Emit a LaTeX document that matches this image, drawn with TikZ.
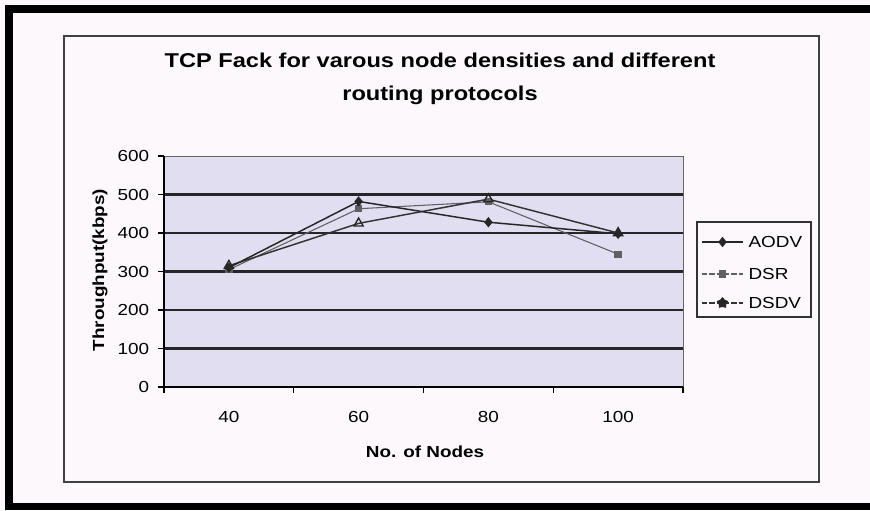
\documentclass[tikz,border=0pt]{standalone}
\usepackage{fontspec}
\setmainfont{Liberation Sans}[FakeStretch=1.18]
\usetikzlibrary{shapes.geometric,calc}

\definecolor{paper}{RGB}{252,248,251}
\definecolor{plotbg}{RGB}{224,222,240}
\definecolor{dsrgrey}{RGB}{95,95,100}

\tikzset{
  tick label/.style={font=\fontsize{12}{14}\selectfont, inner sep=1pt},
  axis title/.style={font=\bfseries\fontsize{12}{14}\selectfont, inner sep=1pt},
  grid line/.style={line width=1.8pt, black!85},
  aodv/.style={line width=1.1pt, black!85},
  dsr/.style={line width=0.8pt, dsrgrey},
  dsdv/.style={line width=1.1pt, black!80},
  aodv dot/.style={diamond, fill=black!85, inner sep=0pt, minimum width=6.5pt, minimum height=8pt},
  dsr dot/.style={rectangle, fill=dsrgrey, inner sep=0pt, minimum size=5.5pt},
  dsdv dot/.style={regular polygon, regular polygon sides=3, draw=black!85, line width=1pt, inner sep=0pt, minimum size=8pt},
  dsdv star/.style={star, star points=5, fill=black!85, inner sep=0pt, minimum size=9pt},
}

\begin{document}
\begin{tikzpicture}[x=0.75pt, y=-0.75pt]
    % --- ФОН И РАМКА ---
    \useasboundingbox (0,0) rectangle (870,510);
    \fill[paper] (0,0) rectangle (870,510);
    \fill[black] (5,5) rectangle (870,13);
    \fill[black] (5,5) rectangle (13,510);
    \fill[black] (5,503) rectangle (870,510);
    \draw[line width=1pt, black!75] (64,36) rectangle (819,482);

    % --- ЗАГОЛОВОК ---
    \node[font=\bfseries\fontsize{15}{24.75}\selectfont, align=center] (title) at (440,79)
        {TCP Fack for varous node densities and different\\routing protocols};

    % --- ОБЛАСТЬ ГРАФИКА ---
    % одна единица x = одна категория, одна единица y = 1 kbps
    \begin{scope}[shift={(164,387)}, x=97.3125pt, y=0.28875pt]
        \fill[plotbg] (0,0) rectangle (4,600);
        \foreach \v in {100,200,...,500}
            \draw[grid line] (0,\v) -- (4,\v);
        \draw[line width=0.6pt, black!60] (0,600) -- (4,600) -- (4,0);
        \draw[line width=1pt] (0,600) -- (0,0) -- (4,0);

        % Деления и подписи осей
        \foreach \v in {0,100,...,600} {
            \draw[line width=0.9pt] (0,\v) -- ++(-4.5pt,0);
            \node[tick label, anchor=east] (ylab\v) at ([xshift=-10pt]0,\v) {\v};
        }
        \foreach \i in {0,...,4}
            \draw[line width=0.9pt] (\i,0) -- ++(0,-4.5pt);
        \foreach \n [count=\i] in {40,60,80,100}
            \node[tick label] (xlab\n) at ([yshift=-22.5pt]\i-0.5,0) {\n};

        % Данные
        \foreach \a [count=\i] in {310,482,428,398}
            \coordinate (aodv\i) at (\i-0.5,\a);
        \foreach \d [count=\i] in {305,463,481,345}
            \coordinate (dsr\i) at (\i-0.5,\d);
        \foreach \s [count=\i] in {315,425,488,400}
            \coordinate (dsdv\i) at (\i-0.5,\s);

        \draw[dsr]  (dsr1) -- (dsr2) -- (dsr3) -- (dsr4);
        \draw[dsdv] (dsdv1) -- (dsdv2) -- (dsdv3) -- (dsdv4);
        \draw[aodv] (aodv1) -- (aodv2) -- (aodv3) -- (aodv4);

        \foreach \i in {1,...,4} {
            \node[dsr dot]  (dsrm\i)  at (dsr\i) {};
            \node[dsdv dot] (dsdvm\i) at (dsdv\i) {};
            \node[aodv dot] (aodvm\i) at (aodv\i) {};
        }
    \end{scope}

    % --- ПОДПИСИ ОСЕЙ ---
    \node[axis title, rotate=90] (ytitle) at (100,270) {Throughput(kbps)};
    \node[axis title] (xtitle) at (425,452) {No. of Nodes};

    % --- ЛЕГЕНДА ---
    \node[draw=black!80, line width=0.9pt, minimum width=85.5pt, minimum height=71.25pt,
          inner sep=0pt] (legend) at (754,269.5) {};

    \coordinate (la0) at (702,242); \coordinate (la1) at (743,242);
    \coordinate (lb0) at (702,274); \coordinate (lb1) at (743,274);
    \coordinate (lc0) at (702,303); \coordinate (lc1) at (743,303);

    \draw[aodv] (la0) -- (la1);
    \draw[dsr, dash pattern=on 4pt off 1.5pt] (lb0) -- (lb1);
    \draw[dsdv, dash pattern=on 4pt off 1.5pt] (lc0) -- (lc1);
    \node[aodv dot] (lam) at ($(la0)!0.5!(la1)$) {};
    \node[dsr dot]  (lbm) at ($(lb0)!0.5!(lb1)$) {};
    \node[dsdv star] (lcm) at ($(lc0)!0.5!(lc1)$) {};

    \node[tick label, anchor=west] (lat) at (747,242) {AODV};
    \node[tick label, anchor=west] (lbt) at (747,274) {DSR};
    \node[tick label, anchor=west] (lct) at (747,303) {DSDV};

\end{tikzpicture}
\end{document}
